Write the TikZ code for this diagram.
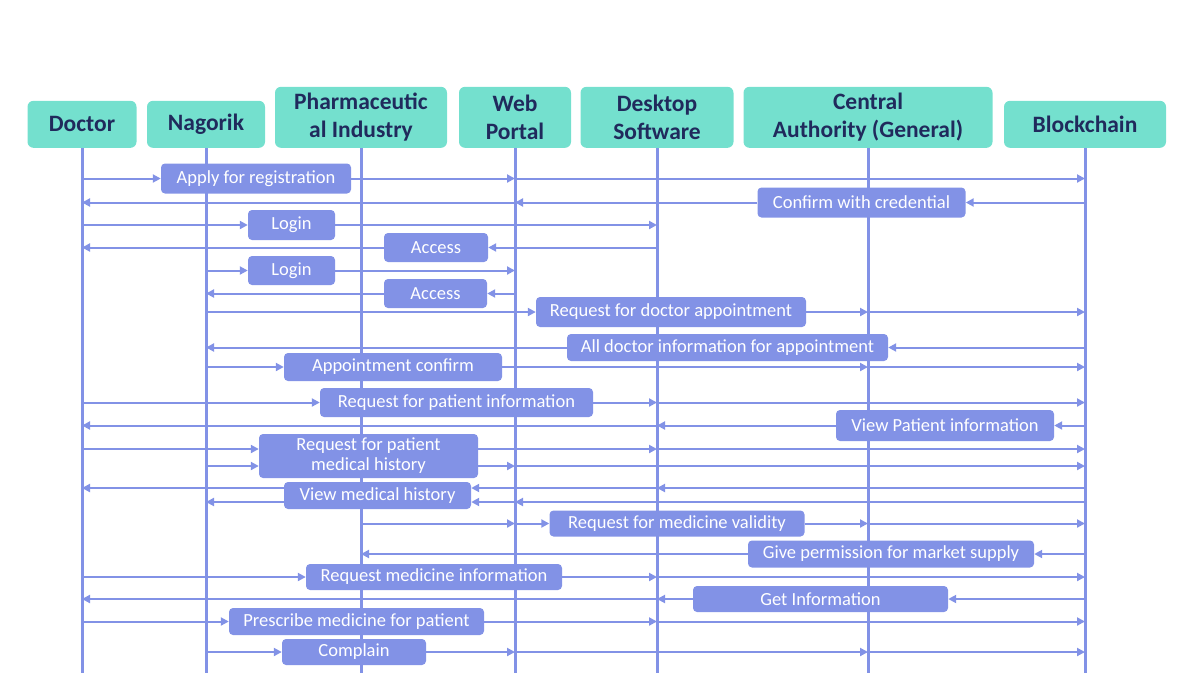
\documentclass[tikz,border=0pt]{standalone}
\usepackage{fontspec}
\setmainfont{Carlito}
\usetikzlibrary{arrows.meta}
\definecolor{laneteal}{RGB}{116,224,206}
\definecolor{lanetext}{RGB}{32,42,92}
\definecolor{flow}{RGB}{130,146,230}
\begin{document}
\begin{tikzpicture}[x=1pt, y=-1pt,
    lane/.style={fill=laneteal, rounded corners=6pt, inner sep=0pt, anchor=south, align=center, text=lanetext, font=\fontsize{23.5}{28}\selectfont\bfseries},
    msg/.style={fill=flow, rounded corners=4pt, inner sep=0pt, align=center, text=white, font=\fontsize{18.5}{20}\selectfont},
    life/.style={line width=3pt, flow},
    arrow/.style={->, line width=2pt, >={Triangle[length=8pt, width=8pt]}, flow}
]
    \useasboundingbox (0,0) rectangle (1196,673);
    \coordinate (bottom) at (0,673);

    % Actors
    \node[lane, minimum width=109, minimum height=47] (doctor) at (82,148) {Doctor};
    \node[lane, minimum width=118, minimum height=47] (nagorik) at (206,148) {Nagorik};
    \node[lane, minimum width=172, minimum height=61] (pharma) at (361,148) {Pharmaceutic\\al Industry};
    \node[lane, minimum width=112, minimum height=61] (web) at (515,148) {Web\\Portal};
    \node[lane, minimum width=153, minimum height=61] (desktop) at (657,148) {Desktop\\Software};
    \node[lane, minimum width=249, minimum height=61] (central) at (868,148) {Central\\Authority (General)};
    \node[lane, minimum width=162, minimum height=47] (chain) at (1085,148) {Blockchain};

    % Lifelines
    \draw[life] (doctor.south) -- (doctor.south |- bottom);
    \draw[life] (nagorik.south) -- (nagorik.south |- bottom);
    \draw[life] (pharma.south) -- (pharma.south |- bottom);
    \draw[life] (web.south) -- (web.south |- bottom);
    \draw[life] (desktop.south) -- (desktop.south |- bottom);
    \draw[life] (central.south) -- (central.south |- bottom);
    \draw[life] (chain.south) -- (chain.south |- bottom);

    % Registration and login
    \node[msg, minimum width=190, minimum height=30] (reg) at (256,178.5) {Apply for registration};
    \draw[arrow] (doctor |- reg) -- (reg);
    \draw[arrow] (reg) -- (web |- reg);
    \draw[arrow] (web |- reg) -- (chain |- reg);

    \node[msg, minimum width=208, minimum height=30] (cred) at (861.5,202.5) {Confirm with credential};
    \draw[arrow] (chain |- cred) -- (cred);
    \draw[arrow] (cred) -- (web |- cred);
    \draw[arrow] (web |- cred) -- (doctor |- cred);

    \node[msg, minimum width=87, minimum height=30] (login1) at (291.5,225) {Login};
    \draw[arrow] (doctor |- login1) -- (login1);
    \draw[arrow] (login1) -- (desktop |- login1);

    \node[msg, minimum width=104, minimum height=29] (access1) at (436,247.5) {Access};
    \draw[arrow] (desktop |- access1) -- (access1);
    \draw[arrow] (access1) -- (doctor |- access1);

    \node[msg, minimum width=87, minimum height=29] (login2) at (291.5,270.5) {Login};
    \draw[arrow] (nagorik |- login2) -- (login2);
    \draw[arrow] (login2) -- (web |- login2);

    \node[msg, minimum width=103, minimum height=29] (access2) at (435.5,293.5) {Access};
    \draw[arrow] (web |- access2) -- (access2);
    \draw[arrow] (access2) -- (nagorik |- access2);

    % Appointment flow
    \node[msg, minimum width=270, minimum height=30] (apreq) at (671,312) {Request for doctor appointment};
    \draw[arrow] (nagorik |- apreq) -- (apreq);
    \draw[arrow] (apreq) -- (central |- apreq);
    \draw[arrow] (central |- apreq) -- (chain |- apreq);

    \node[msg, minimum width=321, minimum height=27] (docinfo) at (727.5,347.5) {All doctor information for appointment};
    \draw[arrow] (chain |- docinfo) -- (docinfo);
    \draw[arrow] (docinfo) -- (nagorik |- docinfo);

    \node[msg, minimum width=218, minimum height=28] (apconf) at (393,367) {Appointment confirm};
    \draw[arrow] (nagorik |- apconf) -- (apconf);
    \draw[arrow] (apconf) -- (central |- apconf);
    \draw[arrow] (central |- apconf) -- (chain |- apconf);

    % Patient records
    \node[msg, minimum width=273, minimum height=29] (patreq) at (456.5,402.5) {Request for patient information};
    \draw[arrow] (doctor |- patreq) -- (patreq);
    \draw[arrow] (patreq) -- (desktop |- patreq);
    \draw[arrow] (desktop |- patreq) -- (chain |- patreq);

    \node[msg, minimum width=218, minimum height=31] (patview) at (945,425.5) {View Patient information};
    \draw[arrow] (chain |- patview) -- (patview);
    \draw[arrow] (patview) -- (desktop |- patview);
    \draw[arrow] (desktop |- patview) -- (doctor |- patview);

    \node[msg, minimum width=219, minimum height=44] (histreq) at (368.5,456) {Request for patient\\medical history};
    \coordinate (histreqa) at ([yshift=7pt]histreq.west);
    \coordinate (histreqb) at ([yshift=-10pt]histreq.west);
    \draw[arrow] (doctor |- histreqa) -- (histreqa);
    \draw[arrow] (histreqa -| histreq.east) -- (desktop |- histreqa);
    \draw[arrow] (desktop |- histreqa) -- (chain |- histreqa);
    \draw[arrow] (nagorik |- histreqb) -- (histreqb);
    \draw[arrow] (histreqb -| histreq.east) -- (web |- histreqb);
    \draw[arrow] (web |- histreqb) -- (chain |- histreqb);

    \node[msg, minimum width=187, minimum height=27] (histview) at (377.5,495.5) {View medical history};
    \coordinate (histviewa) at ([yshift=7.5pt]histview.east);
    \coordinate (histviewb) at ([yshift=-6.5pt]histview.east);
    \draw[arrow] (chain |- histviewa) -- (desktop |- histviewa);
    \draw[arrow] (desktop |- histviewa) -- (histviewa);
    \draw[arrow] (histviewa -| histview.west) -- (doctor |- histviewa);
    \draw[arrow] (chain |- histviewb) -- (web |- histviewb);
    \draw[arrow] (web |- histviewb) -- (histviewb);
    \draw[arrow] (histviewb -| histview.west) -- (nagorik |- histviewb);

    % Medicine flow
    \node[msg, minimum width=255, minimum height=26] (medval) at (677,523.5) {Request for medicine validity};
    \draw[arrow] (pharma |- medval) -- (web |- medval);
    \draw[arrow] (web |- medval) -- (medval);
    \draw[arrow] (medval) -- (central |- medval);
    \draw[arrow] (central |- medval) -- (chain |- medval);

    \node[msg, minimum width=286, minimum height=27] (permit) at (891,554) {Give permission for market supply};
    \draw[arrow] (chain |- permit) -- (permit);
    \draw[arrow] (permit) -- (pharma |- permit);

    \node[msg, minimum width=256, minimum height=26] (medreq) at (434,577) {Request medicine information};
    \draw[arrow] (doctor |- medreq) -- (medreq);
    \draw[arrow] (medreq) -- (desktop |- medreq);
    \draw[arrow] (desktop |- medreq) -- (chain |- medreq);

    \node[msg, minimum width=255, minimum height=26] (getinfo) at (820.5,599) {Get Information};
    \draw[arrow] (chain |- getinfo) -- (getinfo);
    \draw[arrow] (getinfo) -- (desktop |- getinfo);
    \draw[arrow] (desktop |- getinfo) -- (doctor |- getinfo);

    \node[msg, minimum width=255, minimum height=27] (presc) at (356.5,621.5) {Prescribe medicine for patient};
    \draw[arrow] (doctor |- presc) -- (presc);
    \draw[arrow] (presc) -- (desktop |- presc);
    \draw[arrow] (desktop |- presc) -- (chain |- presc);

    \node[msg, minimum width=144, minimum height=26] (compl) at (354,652) {Complain};
    \draw[arrow] (nagorik |- compl) -- (compl);
    \draw[arrow] (compl) -- (web |- compl);
    \draw[arrow] (web |- compl) -- (central |- compl);
    \draw[arrow] (central |- compl) -- (chain |- compl);
\end{tikzpicture}
\end{document}
